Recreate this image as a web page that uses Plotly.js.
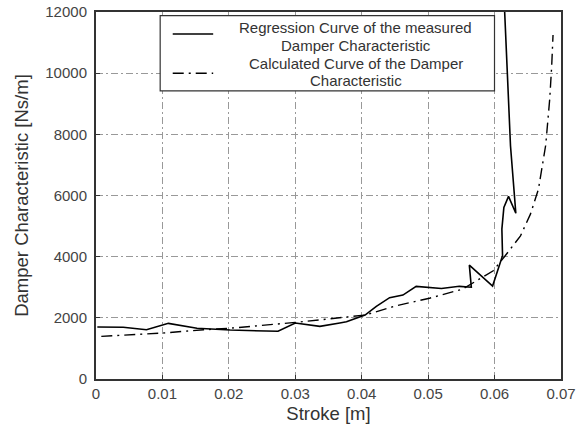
<!DOCTYPE html>
<html>
<head>
<meta charset="utf-8">
<script src="https://cdn.plot.ly/plotly-3.0.1.min.js"></script>
<style>html,body{margin:0;padding:0;background:#fff;}#chart{width:584px;height:435px;}</style>
</head>
<body>
<div id="chart"></div>
<script>
// Measured regression curve (stroke [m], damper characteristic [Ns/m])
var measuredStroke = [0.0002,0.0041,0.0076,0.0109,0.0152,0.0202,0.0274,0.0300,0.0337,0.0352,0.0367,0.0377,0.0405,0.0422,0.0442,0.0462,0.0482,0.0520,0.0547,0.0565,0.0562,0.0597,0.0608,0.0612,0.0611,0.0614,0.0621,0.0632,0.0624,0.0615,0.0614];
var measuredDamper = [1700,1690,1610,1820,1660,1600,1560,1830,1720,1765,1830,1870,2090,2375,2660,2745,3030,2960,3030,3000,3725,3040,3810,4030,4900,5610,5970,5420,7620,12000,12600];
// Calculated curve
var calcStroke = [0.0008,0.0099,0.0162,0.0202,0.0300,0.0352,0.0405,0.0452,0.0502,0.0552,0.0580,0.0598,0.0616,0.0639,0.0654,0.0666,0.0677,0.0683,0.0686,0.0688];
var calcDamper = [1395,1500,1610,1660,1850,1960,2090,2395,2640,2940,3320,3540,4030,4680,5390,6200,7650,9150,10240,11250];

var xTicks = [0,0.01,0.02,0.03,0.04,0.05,0.06,0.07];
var xTickText = ['0','0.01','0.02','0.03','0.04','0.05','0.06','0.07'];
var yTicks = [0,2000,4000,6000,8000,10000,12000];
var yTickText = ['0','2000','4000','6000','8000','10000','12000'];
var legendLines = ['Regression Curve of the measured','Damper Characteristic','Calculated Curve of the Damper','Characteristic'];

var font = 'Liberation Sans, Arial, sans-serif';
var dashDot = '11px,5px,2px,5px';
var traces = [
  {x: measuredStroke, y: measuredDamper, mode: 'lines', name: legendLines[0] + ' ' + legendLines[1],
   line: {color: '#000', width: 1.6}},
  {x: calcStroke, y: calcDamper, mode: 'lines', name: legendLines[2] + ' ' + legendLines[3],
   line: {color: '#000', width: 1.4, dash: dashDot}}
];

var legendY = [0.959, 0.910, 0.861, 0.812];
var annotations = legendLines.map(function (t, i) {
  return {xref: 'paper', yref: 'paper', x: 0.559, y: legendY[i], text: t,
    showarrow: false, align: 'center', font: {size: 15, color: '#333'},
    xanchor: 'center', yanchor: 'middle'};
});

var layout = {
  width: 584, height: 435,
  margin: {l: 96, r: 23, t: 12, b: 56},
  paper_bgcolor: '#fff', plot_bgcolor: '#fff',
  showlegend: false,
  font: {family: font, color: '#333', size: 15},
  xaxis: {
    range: [0, 0.07], tickvals: xTicks, ticktext: xTickText,
    showgrid: true, gridcolor: '#999', griddash: '7px,3px,2px,3px', gridwidth: 1,
    showline: true, linecolor: '#333', linewidth: 2, mirror: true,
    ticks: 'inside', ticklen: 4, tickcolor: '#333',
    zeroline: false, tickfont: {size: 15, color: '#444'},
    title: {text: 'Stroke [m]', font: {size: 18.5, color: '#333'}, standoff: 6}
  },
  yaxis: {
    range: [0, 12000], tickvals: yTicks, ticktext: yTickText,
    showgrid: true, gridcolor: '#999', griddash: '7px,3px,2px,3px', gridwidth: 1,
    showline: true, linecolor: '#333', linewidth: 2, mirror: true,
    ticks: 'inside', ticklen: 4, tickcolor: '#333', ticklabelstandoff: 4,
    zeroline: false, tickfont: {size: 15, color: '#444'},
    title: {text: 'Damper Characteristic [Ns/m]', font: {size: 18.5, color: '#333'}, standoff: 12}
  },
  shapes: [
    {type: 'rect', xref: 'paper', yref: 'paper', x0: 0.138, x1: 0.857, y0: 0.785, y1: 0.99,
     line: {color: '#333', width: 1.2}, fillcolor: '#fff', layer: 'above'},
    {type: 'line', xref: 'paper', yref: 'paper', x0: 0.165, x1: 0.252, y0: 0.94, y1: 0.94,
     line: {color: '#000', width: 1.6}},
    {type: 'line', xref: 'paper', yref: 'paper', x0: 0.165, x1: 0.252, y0: 0.833, y1: 0.833,
     line: {color: '#000', width: 1.4, dash: dashDot}}
  ],
  annotations: annotations
};

Plotly.newPlot('chart', traces, layout, {staticPlot: true});
</script>
</body>
</html>
